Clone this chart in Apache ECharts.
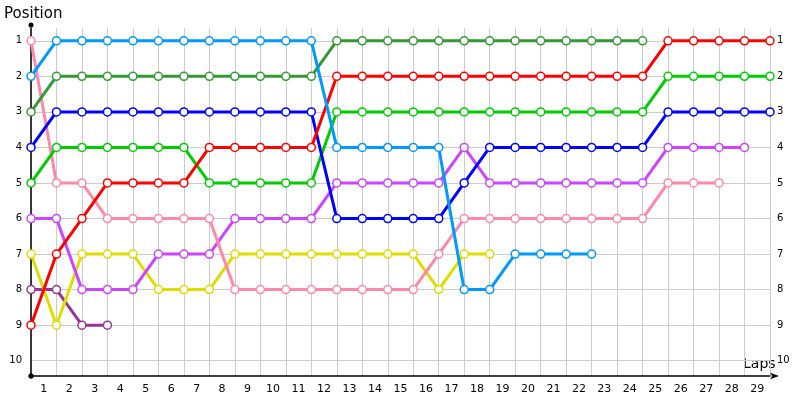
<!DOCTYPE html>
<html>
<head>
<meta charset="utf-8">
<script src="https://cdn.jsdelivr.net/npm/echarts@6/dist/echarts.min.js"></script>
<style>html,body{margin:0;padding:0;background:#fff;}#c{width:800px;height:400px;}</style>
</head>
<body>
<div id="c"></div>
<script>
// Laps (category labels under the x axis)
const lapLabels = ['1','2','3','4','5','6','7','8','9','10','11','12','13','14','15','16','17','18','19','20','21','22','23','24','25','26','27','28','29'];
// Position tick labels
const positionTicks = [1,2,3,4,5,6,7,8,9,10];

// Positions per lap, starting at lap 0 (grid)
const darkPurple = [8,8,9,9];
const yellow     = [7,9,7,7,7,8,8,8,7,7,7,7,7,7,7,7,8,7,7];
const magenta    = [6,6,8,8,8,7,7,7,6,6,6,6,5,5,5,5,5,4,5,5,5,5,5,5,5,4,4,4,4];
const pink       = [1,5,5,6,6,6,6,6,8,8,8,8,8,8,8,8,7,6,6,6,6,6,6,6,6,5,5,5];
const lightGreen = [5,4,4,4,4,4,4,5,5,5,5,5,3,3,3,3,3,3,3,3,3,3,3,3,3,2,2,2,2,2];
const blue       = [4,3,3,3,3,3,3,3,3,3,3,3,6,6,6,6,6,5,4,4,4,4,4,4,4,3,3,3,3,3];
const red        = [9,7,6,5,5,5,5,4,4,4,4,4,2,2,2,2,2,2,2,2,2,2,2,2,2,1,1,1,1,1];
const darkGreen  = [3,2,2,2,2,2,2,2,2,2,2,2,1,1,1,1,1,1,1,1,1,1,1,1,1];
const lightBlue  = [2,1,1,1,1,1,1,1,1,1,1,1,4,4,4,4,4,8,8,7,7,7,7];

const seriesDefs = [
  {name:'darkPurple', data: darkPurple, color:'#993399'},
  {name:'yellow', data: yellow, color:'#DDDD00'},
  {name:'magenta', data: magenta, color:'#CC44FF'},
  {name:'pink', data: pink, color:'#FF88AA'},
  {name:'lightGreen', data: lightGreen, color:'#00CC00'},
  {name:'blue', data: blue, color:'#0000FF'},
  {name:'red', data: red, color:'#FF0000'},
  {name:'darkGreen', data: darkGreen, color:'#339933'},
  {name:'lightBlue', data: lightBlue, color:'#0099FF'}
];

const FONT = 'DejaVu Sans';
const chart = echarts.init(document.getElementById('c'), null, {renderer:'canvas'});

const yCommon = {
  type:'value', inverse:true, min:0.64, max:10.43,
};

chart.setOption({
  animation:false,
  backgroundColor:'#ffffff',
  grid:{left:31, right:30, top:28, bottom:24, containLabel:false},
  graphic:[
    {type:'text', left:4, top:7, style:{text:'Position', font:'15px "DejaVu Sans"', fill:'#000'}},
    {type:'text', left:743, top:357, style:{text:'Laps', font:'14px "DejaVu Sans"', fill:'#000'}}
  ],
  xAxis:[
    {
      type:'value', min:0, max:29, interval:1,
      axisLine:{show:true, lineStyle:{color:'#000', width:1.5}, symbol:['circle','arrow'], symbolSize:[5,9], symbolOffset:[0,9]},
      axisTick:{show:false}, axisLabel:{show:false},
      splitLine:{show:true, lineStyle:{color:'#cccccc', width:1}}
    },
    {
      type:'category', data: lapLabels, boundaryGap:true, position:'bottom',
      axisLine:{show:false}, axisTick:{show:false}, splitLine:{show:false},
      axisLabel:{show:true, color:'#000', fontFamily:FONT, fontSize:11, margin:8, interval:0}
    }
  ],
  yAxis:[
    Object.assign({}, yCommon, {
      position:'left',
      axisLine:{show:true, lineStyle:{color:'#000', width:1.5}, symbol:['circle','circle'], symbolSize:[5,5], symbolOffset:[0,3]},
      axisTick:{show:false, customValues: positionTicks},
      axisLabel:{show:true, customValues: positionTicks, color:'#000', fontFamily:FONT, fontSize:10, margin:9},
      splitLine:{show:true, lineStyle:{color:'#cccccc', width:1}}
    }),
    Object.assign({}, yCommon, {
      position:'right',
      axisLine:{show:false},
      axisTick:{show:false, customValues: positionTicks},
      axisLabel:{show:true, customValues: positionTicks, color:'#000', fontFamily:FONT, fontSize:10, margin:7},
      splitLine:{show:false}
    })
  ],
  series: seriesDefs.map(s => ({
    name:s.name, type:'line', xAxisIndex:0, yAxisIndex:0,
    data: s.data.map((p,i) => [i,p]),
    symbol:'circle', symbolSize:8, showAllSymbol:true,
    lineStyle:{color:s.color, width:3},
    itemStyle:{color:'#ffffff', borderColor:s.color, borderWidth:1.5},
    emphasis:{disabled:true}
  }))
});
</script>
</body>
</html>
